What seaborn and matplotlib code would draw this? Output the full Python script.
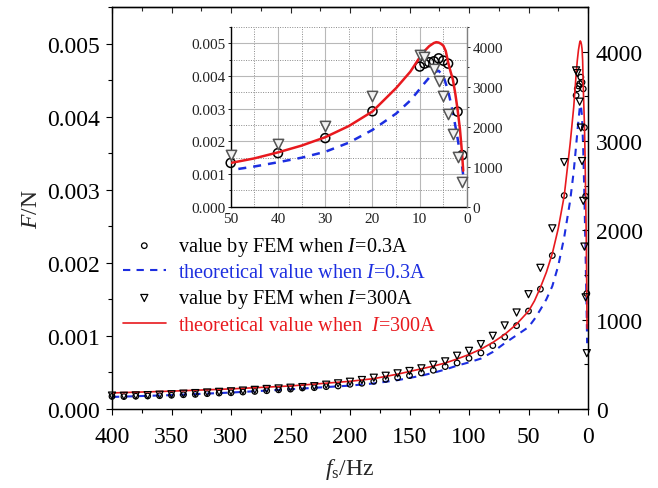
import matplotlib
matplotlib.use("Agg")
import matplotlib.pyplot as plt
import numpy as np
import pandas as pd
import seaborn as sns
from matplotlib.ticker import MultipleLocator, FormatStrFormatter

# ---------------- data ----------------
# FEM result, I = 0.3 A (left axis, N)
f_fem_03 = [400, 390, 380, 370, 360, 350, 340, 330, 320, 310, 300, 290, 280, 270,
            260, 250, 240, 230, 220, 210, 200, 190, 180, 170, 160, 150, 140, 130,
            120, 110, 100, 90, 80, 70, 60, 50, 40, 30, 20, 10, 9, 8, 7, 6, 5, 4, 3, 2, 1]
F_fem_03 = [0.000172, 0.000170, 0.000175, 0.000178, 0.000182, 0.000188, 0.000195,
            0.000200, 0.000210, 0.000218, 0.000222, 0.000232, 0.000240, 0.000250,
            0.000262, 0.000272, 0.000288, 0.000292, 0.000306, 0.000315, 0.000338,
            0.000352, 0.000379, 0.000406, 0.000429, 0.000457, 0.000493, 0.000530,
            0.000580, 0.000630, 0.000694, 0.000767, 0.000868, 0.000985, 0.00114,
            0.00134, 0.00164, 0.00210, 0.00292, 0.00429, 0.00438, 0.00442, 0.00445,
            0.00454, 0.00447, 0.00438, 0.00385, 0.00291, 0.00158]

# FEM result, I = 300 A (right axis, N)
f_fem_300 = [400, 390, 380, 370, 360, 350, 340, 330, 320, 310, 300, 290, 280, 270,
             260, 250, 240, 230, 220, 210, 200, 190, 180, 170, 160, 150, 140, 130,
             120, 110, 100, 90, 80, 70, 60, 50, 40, 30, 20, 10, 9, 7, 6, 5, 4, 3, 2, 1]
F_fem_300 = [150, 148, 152, 155, 160, 165, 172, 178, 185, 192, 198, 206, 214, 224,
             230, 238, 245, 255, 272, 287, 305, 324, 350, 372, 399, 425, 455, 495,
             533, 596, 651, 726, 819, 935, 1080, 1285, 1580, 2022, 2763, 3790, 3760,
             3440, 3150, 2775, 2330, 1818, 1250, 625]

# theoretical, I = 0.3 A (left axis, N)
f_th_03 = [400, 350, 300, 250, 200, 180, 160, 150, 140, 130, 120, 110, 100, 90, 80,
           70, 60, 50, 45, 40, 35, 30, 25, 20, 15, 12, 10, 9, 8, 7, 6, 5, 4, 3, 2,
           1.5, 1, 0.75]
F_th_03 = [0.000165, 0.000190, 0.000225, 0.000270, 0.000320, 0.000350, 0.000395,
           0.000425, 0.000456, 0.000495, 0.000540, 0.000593, 0.000638, 0.000690,
           0.000780, 0.000900, 0.001010, 0.001120, 0.00123, 0.00136, 0.00150,
           0.00168, 0.00196, 0.00235, 0.00285, 0.00325, 0.00360, 0.00378, 0.00395,
           0.00411, 0.00416, 0.00400, 0.00355, 0.00290, 0.00210, 0.00165, 0.00120,
           0.00090]

# theoretical, I = 300 A (right axis, N)
f_th_300 = [400, 350, 300, 250, 200, 180, 160, 150, 140, 130, 120, 110, 100, 90, 80,
            70, 60, 50, 45, 40, 35, 30, 25, 20, 15, 12, 10, 9, 8, 7, 6.5, 6, 5.5, 5,
            4.5, 4, 3.5, 3, 2.5, 2, 1.5, 1.2, 1, 0.8]
F_th_300 = [180, 200, 225, 258, 310, 340, 390, 420, 450, 480, 515, 560, 610, 670,
            745, 835, 950, 1095, 1210, 1360, 1530, 1740, 2020, 2385, 2970, 3380,
            3740, 3900, 4020, 4100, 4120, 4110, 4080, 4030, 3900, 3620, 3390, 3190,
            2850, 2440, 1950, 1550, 1250, 900]

labels = ["value by FEM when $I$=0.3A",
          "theoretical value when $I$=0.3A",
          "value by FEM when $I$=300A",
          "theoretical value when  $I$=300A"]

RED = "#e8191e"
BLUE = "#1c2ee0"

df_fem03 = pd.DataFrame({"f": f_fem_03, "F": F_fem_03})
df_fem300 = pd.DataFrame({"f": f_fem_300, "F": F_fem_300})
df_th03 = pd.DataFrame({"f": f_th_03, "F": F_th_03})
df_th300 = pd.DataFrame({"f": f_th_300, "F": F_th_300})

sns.set_theme(style="white")
plt.rcParams["font.family"] = ["Liberation Serif", "DejaVu Serif"]
plt.rcParams["mathtext.fontset"] = "custom"
plt.rcParams["mathtext.rm"] = "Liberation Serif"
plt.rcParams["mathtext.it"] = "Liberation Serif:italic"
plt.rcParams["axes.unicode_minus"] = False

fig = plt.figure(figsize=(6.58, 4.89), dpi=100)
W, H = 658, 489

def fig_rect(x0, y0, x1, y1):
    return [x0 / W, 1 - y1 / H, (x1 - x0) / W, (y1 - y0) / H]

# ---------------- main axes ----------------
ax = fig.add_axes(fig_rect(112, 8, 588, 410))
ax2 = ax.twinx()

sns.lineplot(data=df_th03, x="f", y="F", ax=ax, color=BLUE, lw=1.5,
             linestyle=(0, (3.5, 3)), errorbar=None, sort=False, label=labels[1])
sns.scatterplot(data=df_fem03, x="f", y="F", ax=ax, marker="o", s=16,
                facecolor="none", edgecolor="black", linewidth=0.9, label=labels[0],
                zorder=3, clip_on=False)
sns.lineplot(data=df_th300, x="f", y="F", ax=ax2, color=RED, lw=1.2,
             errorbar=None, sort=False, label=labels[3])
sns.scatterplot(data=df_fem300, x="f", y="F", ax=ax2, marker="v", s=26,
                facecolor="none", edgecolor="black", linewidth=0.9, label=labels[2],
                zorder=3, clip_on=False)

ax.set_xlim(400, 0)
ax.set_ylim(0, 0.0055)
ax2.set_ylim(0, 4500)

ax.xaxis.set_major_locator(MultipleLocator(50))
ax.xaxis.set_minor_locator(MultipleLocator(25))
ax.yaxis.set_major_locator(MultipleLocator(0.001))
ax.yaxis.set_minor_locator(MultipleLocator(0.0005))
ax.yaxis.set_major_formatter(FormatStrFormatter("%.3f"))
ax2.yaxis.set_major_locator(MultipleLocator(1000))
ax2.yaxis.set_minor_locator(MultipleLocator(500))

ax.tick_params(axis="x", which="both", direction="out", bottom=True, top=False,
               labelsize=17, pad=7.5, colors="black")
ax.tick_params(axis="x", which="major", length=4.5, width=0.8)
ax.tick_params(axis="x", which="minor", length=2.8, width=0.8)
ax.tick_params(axis="y", which="both", direction="out", left=True,
               labelsize=17, pad=4.5, colors="black")
ax.tick_params(axis="y", which="major", length=4.5, width=0.8)
ax.tick_params(axis="y", which="minor", length=2.8, width=0.8)
ax2.tick_params(axis="y", which="both", direction="in", right=True,
                labelsize=17, pad=5.5, colors="black")
ax2.tick_params(axis="y", which="major", length=4.5, width=0.8)
ax2.tick_params(axis="y", which="minor", length=2.8, width=0.8)

top = ax.secondary_xaxis("top")
top.xaxis.set_major_locator(MultipleLocator(50))
top.xaxis.set_minor_locator(MultipleLocator(25))
top.tick_params(axis="x", which="both", direction="in", labeltop=False)
top.tick_params(axis="x", which="major", length=4.5, width=0.8)
top.tick_params(axis="x", which="minor", length=2.8, width=0.8)

for a in (ax, ax2):
    for sp in a.spines.values():
        sp.set_color("black")
        sp.set_linewidth(0.9)
top.spines["top"].set_linewidth(0.9)

ax.set_xlabel("$f_\\mathrm{s}$/Hz", fontsize=17)
ax.set_ylabel("$F$/N", fontsize=17)
ax2.set_ylabel("")
ax.xaxis.set_label_coords(0.5, -0.118)
ax.yaxis.set_label_coords(-0.147, 0.5)

# legend
h1, l1 = ax.get_legend_handles_labels()
h2, l2 = ax2.get_legend_handles_labels()
hmap = dict(zip(l1 + l2, h1 + h2))
for a in (ax, ax2):
    if a.get_legend() is not None:
        a.get_legend().remove()
leg = ax2.legend([hmap[l] for l in labels], labels, loc="upper left",
                 bbox_to_anchor=(123 / W, 1 - 236 / H), bbox_transform=fig.transFigure,
                 frameon=False, fontsize=14.6, handlelength=2.1, handletextpad=0.6,
                 labelspacing=0.25, borderpad=0, borderaxespad=0, scatterpoints=1)
for t, c in zip(leg.get_texts(), ["black", BLUE, "black", RED]):
    t.set_color(c)

# ---------------- inset ----------------
axi = fig.add_axes(fig_rect(230.7, 28, 467, 207.7))
axi.set_facecolor("white")
axi2 = axi.twinx()

sns.lineplot(data=df_th03, x="f", y="F", ax=axi, color=BLUE, lw=1.8,
             linestyle=(0, (3.2, 2.8)), errorbar=None, sort=False, legend=False)
sns.scatterplot(data=df_fem03, x="f", y="F", ax=axi, marker="o", s=42,
                facecolor="none", edgecolor="black", linewidth=1.1, zorder=3,
                legend=False, clip_on=False)
sns.lineplot(data=df_th300, x="f", y="F", ax=axi2, color=RED, lw=1.8,
             errorbar=None, sort=False, legend=False)
sns.scatterplot(data=df_fem300, x="f", y="F", ax=axi2, marker="v", s=55,
                facecolor="#f2f2f2", edgecolor="#555555", linewidth=1.1, zorder=3,
                legend=False)

# only the points inside the inset x-range should be drawn unclipped
for coll in axi2.collections + axi.collections:
    coll.set_clip_on(True)
    coll.set_clip_box(None)
from matplotlib.transforms import Bbox, TransformedBbox
clip_bb = TransformedBbox(Bbox([[-0.04, -0.02], [1.04, 1.0]]), axi.transAxes)
for coll in axi2.collections + axi.collections:
    coll.set_clip_box(clip_bb)

axi.set_xlim(50, 0)
axi.set_ylim(0, 0.0055)
axi2.set_ylim(0, 4500)
axi.xaxis.set_major_locator(MultipleLocator(10))
axi.xaxis.set_minor_locator(MultipleLocator(5))
axi.yaxis.set_major_locator(MultipleLocator(0.001))
axi.yaxis.set_minor_locator(MultipleLocator(0.0005))
axi.yaxis.set_major_formatter(FormatStrFormatter("%.3f"))
axi2.yaxis.set_major_locator(MultipleLocator(1000))
axi2.yaxis.set_minor_locator(MultipleLocator(500))

axi.grid(True, which="major", axis="both", color="#b8b8b8", lw=0.8, ls="-")
axi.grid(True, which="minor", axis="both", color="#8a8a8a", lw=0.7, ls=(0, (1, 1.5)))
axi.set_axisbelow(True)

axi.tick_params(axis="both", which="both", direction="out", labelsize=11,
                colors="#222222", pad=1.5)
axi.tick_params(axis="both", which="major", length=2.5, width=0.7)
axi.tick_params(axis="both", which="minor", length=1.5, width=0.7)
axi2.tick_params(axis="y", which="both", direction="out", labelsize=11,
                 colors="#222222", pad=1.5)
axi2.tick_params(axis="y", which="major", length=2.5, width=0.7)
axi2.tick_params(axis="y", which="minor", length=1.5, width=0.7)
axi.set_xlabel("")
axi.set_ylabel("")
axi2.set_ylabel("")
for a in (axi, axi2):
    a.spines["top"].set_visible(False)
axi.spines["left"].set_color("black")
axi.spines["bottom"].set_color("black")
axi.spines["left"].set_linewidth(1.0)
axi.spines["bottom"].set_linewidth(1.0)
axi2.spines["right"].set_color("#808080")
axi2.spines["right"].set_linewidth(1.0)
axi2.spines["left"].set_visible(False)
axi2.spines["bottom"].set_visible(False)
axi.spines["right"].set_visible(False)

fig.savefig("out.png", dpi=100)
